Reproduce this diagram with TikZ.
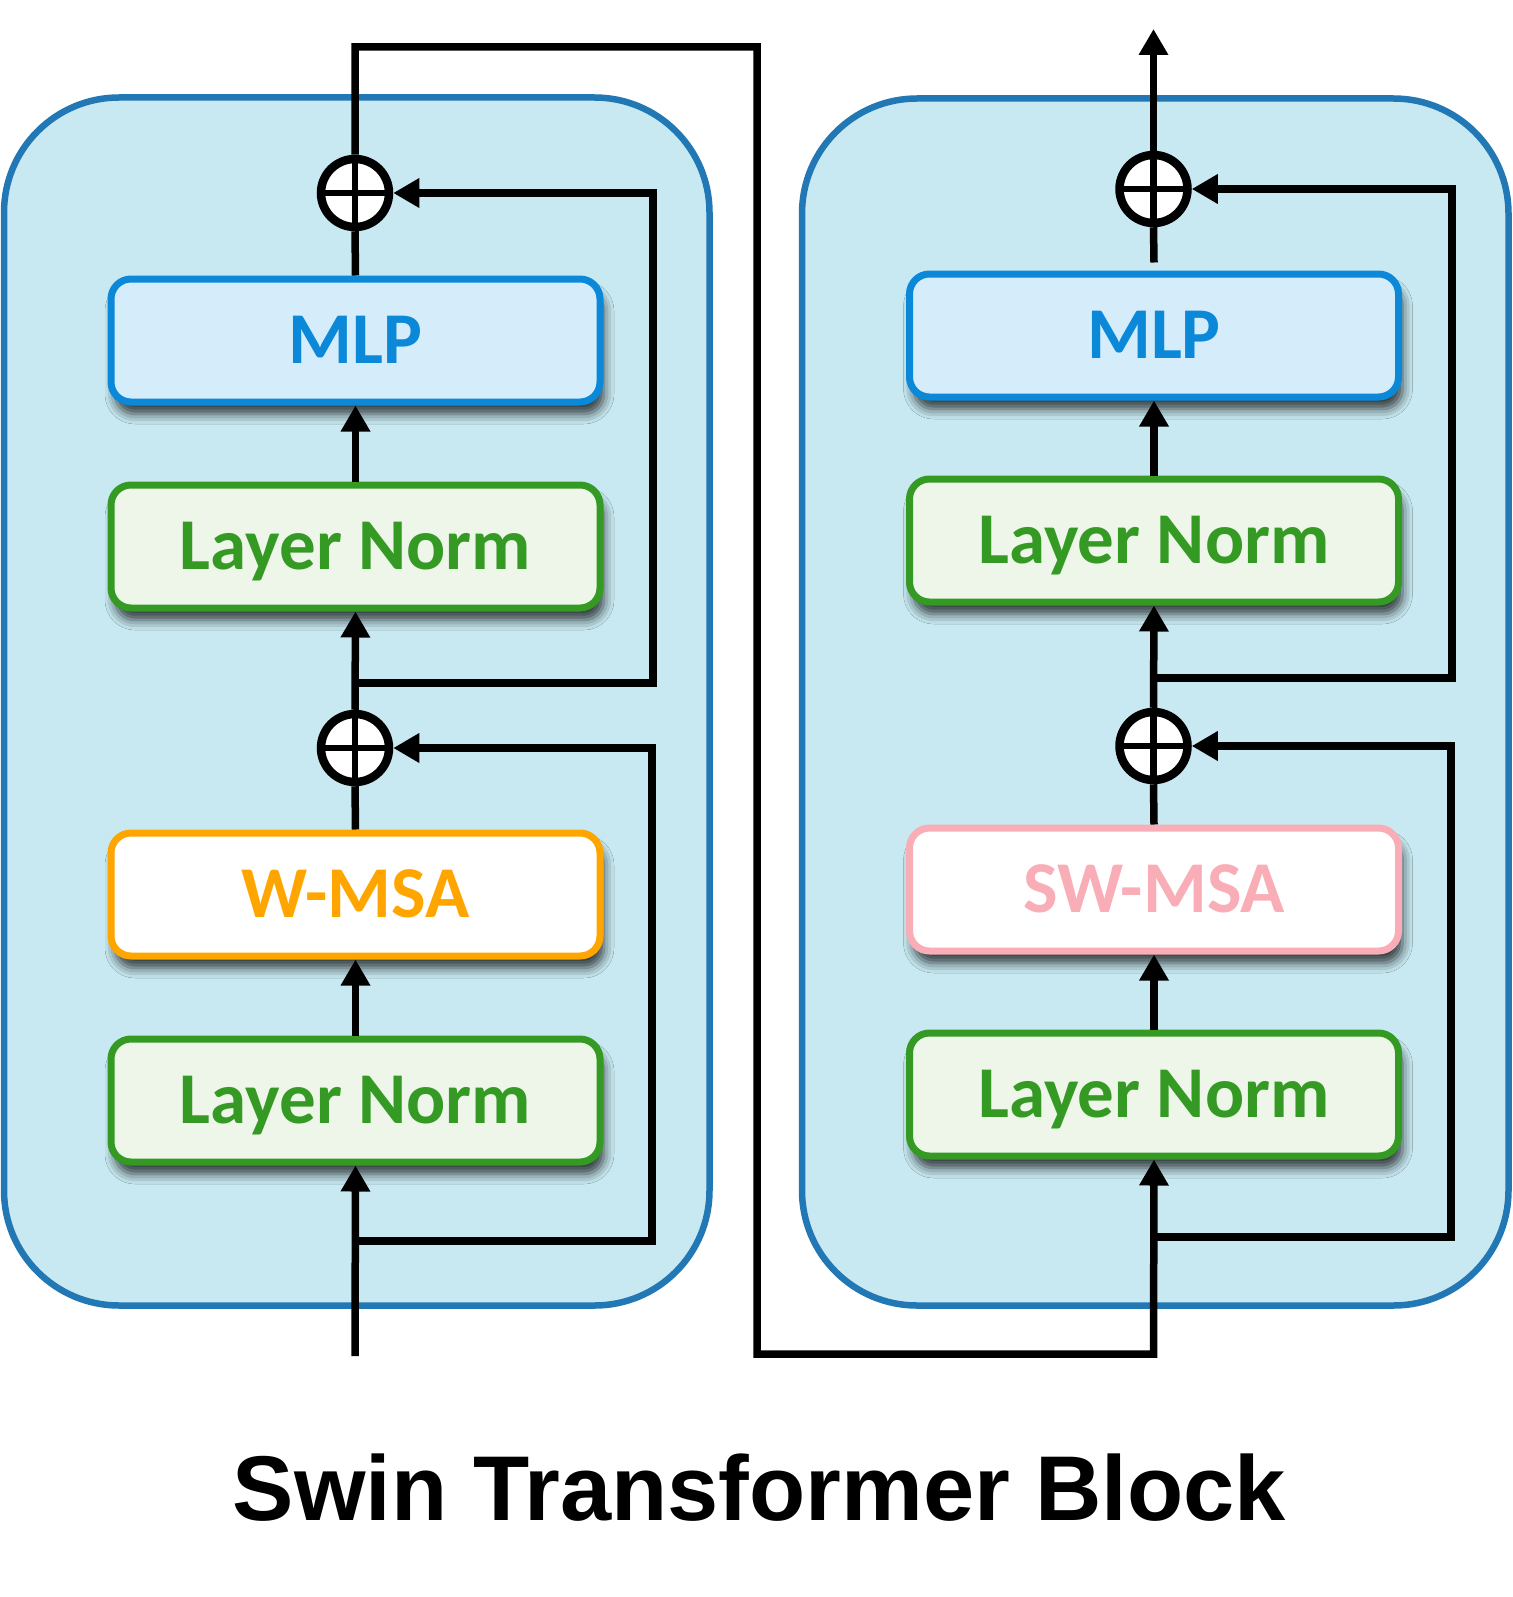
\documentclass[tikz,border=0pt]{standalone}
\usepackage{fontspec}
\setmainfont{Carlito}
\newfontfamily\titlefont{Liberation Sans}
\usetikzlibrary{arrows.meta,shadows.blur}
\definecolor{contfill}{HTML}{C8E9F2}
\definecolor{contdraw}{HTML}{2178B4}
\definecolor{mlpfill}{HTML}{D5ECFB}
\definecolor{mlpdraw}{HTML}{0B88D8}
\definecolor{lnfill}{HTML}{EEF6EA}
\definecolor{lndraw}{HTML}{349A24}
\definecolor{wdraw}{HTML}{FFA500}
\definecolor{swdraw}{HTML}{F9ADB6}
\tikzset{
  container/.style={fill=contfill, draw=contdraw, line width=6.5pt, rounded corners=115pt},
  box/.style={rectangle, rounded corners=20pt, line width=7pt, minimum width=489pt,
    minimum height=123pt, inner sep=0pt, outer sep=3.5pt, text height=46pt, text depth=0pt,
    font=\fontsize{73}{80}\selectfont\bfseries,
    blur shadow={shadow xshift=4pt, shadow yshift=-12pt, shadow blur radius=10pt, shadow opacity=75}},
  mlpbox/.style={box, fill=mlpfill, draw=mlpdraw, text=mlpdraw},
  lnbox/.style={box, fill=lnfill, draw=lndraw, text=lndraw},
  wbox/.style={box, fill=white, draw=wdraw, text=wdraw},
  swbox/.style={box, fill=white, draw=swdraw, text=swdraw},
  plusnode/.style={circle, draw=black, fill=white, line width=8.5pt, minimum size=68pt, inner sep=0pt,
    path picture={\draw[line width=6.5pt] (path picture bounding box.north) -- (path picture bounding box.south)
      (path picture bounding box.west) -- (path picture bounding box.east);}},
  conn/.style={draw=black, line width=7.5pt},
  tip/.style={-{Triangle[length=26pt,width=28pt]}}
}
\begin{document}
\begin{tikzpicture}[x=1pt,y=-1pt]
\useasboundingbox (0,0) rectangle (1512,1597);
% containers
\draw[container] (4,97.5) rectangle (709.5,1305.5);
\draw[container] (802,98.5) rectangle (1508.5,1305.5);

% left column
\node[lnbox] (lnA) at (355.5,1100.5) {Layer Norm};
\node[wbox] (wL) at (355.5,894.5) {W-MSA};
\node[lnbox] (lnB) at (355.5,546.5) {Layer Norm};
\node[mlpbox] (mlpL) at (355.5,340.5) {MLP};
\node[plusnode] (pA) at (355,748) {};
\node[plusnode] (pB) at (355,193) {};
\coordinate (inL) at (355,1356);
\coordinate (brA) at (355,1241);
\coordinate (skA) at (652,1241);
\coordinate (skAt) at (652,748);
\coordinate (brB) at (355,683);
\coordinate (skB) at (653,683);
\coordinate (skBt) at (653,193);
\coordinate (topL) at (355,47);
\coordinate (topM) at (757,47);
\coordinate (botM) at (757,1354);
\coordinate (botR) at (1153.5,1354);

% right column
\node[lnbox] (lnAR) at (1154,1094.5) {Layer Norm};
\node[swbox] (swR) at (1154,889.5) {SW-MSA};
\node[lnbox] (lnBR) at (1154,540.5) {Layer Norm};
\node[mlpbox] (mlpR) at (1154,335.5) {MLP};
\node[plusnode] (pAR) at (1153.5,746) {};
\node[plusnode] (pBR) at (1153.5,189) {};
\coordinate (brAR) at (1153.5,1237);
\coordinate (skAR) at (1451,1237);
\coordinate (skARt) at (1451,746);
\coordinate (brBR) at (1153.5,678);
\coordinate (skBR) at (1452,678);
\coordinate (skBRt) at (1452,189);
\coordinate (outR) at (1153.5,29);

% left connectors
\draw[conn,tip] (inL) -- (lnA.south);
\draw[conn,tip] (brA) -- (skA) -- (skAt) -- (pA.east);
\draw[conn,tip] (lnA.north) -- (wL.south);
\draw[conn] (wL.north) -- (pA.south);
\draw[conn,tip] (pA.north) -- (lnB.south);
\draw[conn,tip] (brB) -- (skB) -- (skBt) -- (pB.east);
\draw[conn,tip] (lnB.north) -- (mlpL.south);
\draw[conn] (mlpL.north) -- (pB.south);
\draw[conn,tip] (pB.north) -- (topL) -- (topM) -- (botM) -- (botR) -- (lnAR.south);

% right connectors
\draw[conn,tip] (brAR) -- (skAR) -- (skARt) -- (pAR.east);
\draw[conn,tip] (lnAR.north) -- (swR.south);
\draw[conn] (swR.north) -- (pAR.south);
\draw[conn,tip] (pAR.north) -- (lnBR.south);
\draw[conn,tip] (brBR) -- (skBR) -- (skBRt) -- (pBR.east);
\draw[conn,tip] (lnBR.north) -- (mlpR.south);
\draw[conn] ([yshift=8pt]mlpR.north) -- (pBR.south);
\draw[conn,tip] (pBR.north) -- (outR);

% title
\node[font=\titlefont\fontsize{92}{100}\selectfont\bfseries, anchor=base] (title) at (759.5,1520) {Swin Transformer Block};
\end{tikzpicture}
\end{document}
